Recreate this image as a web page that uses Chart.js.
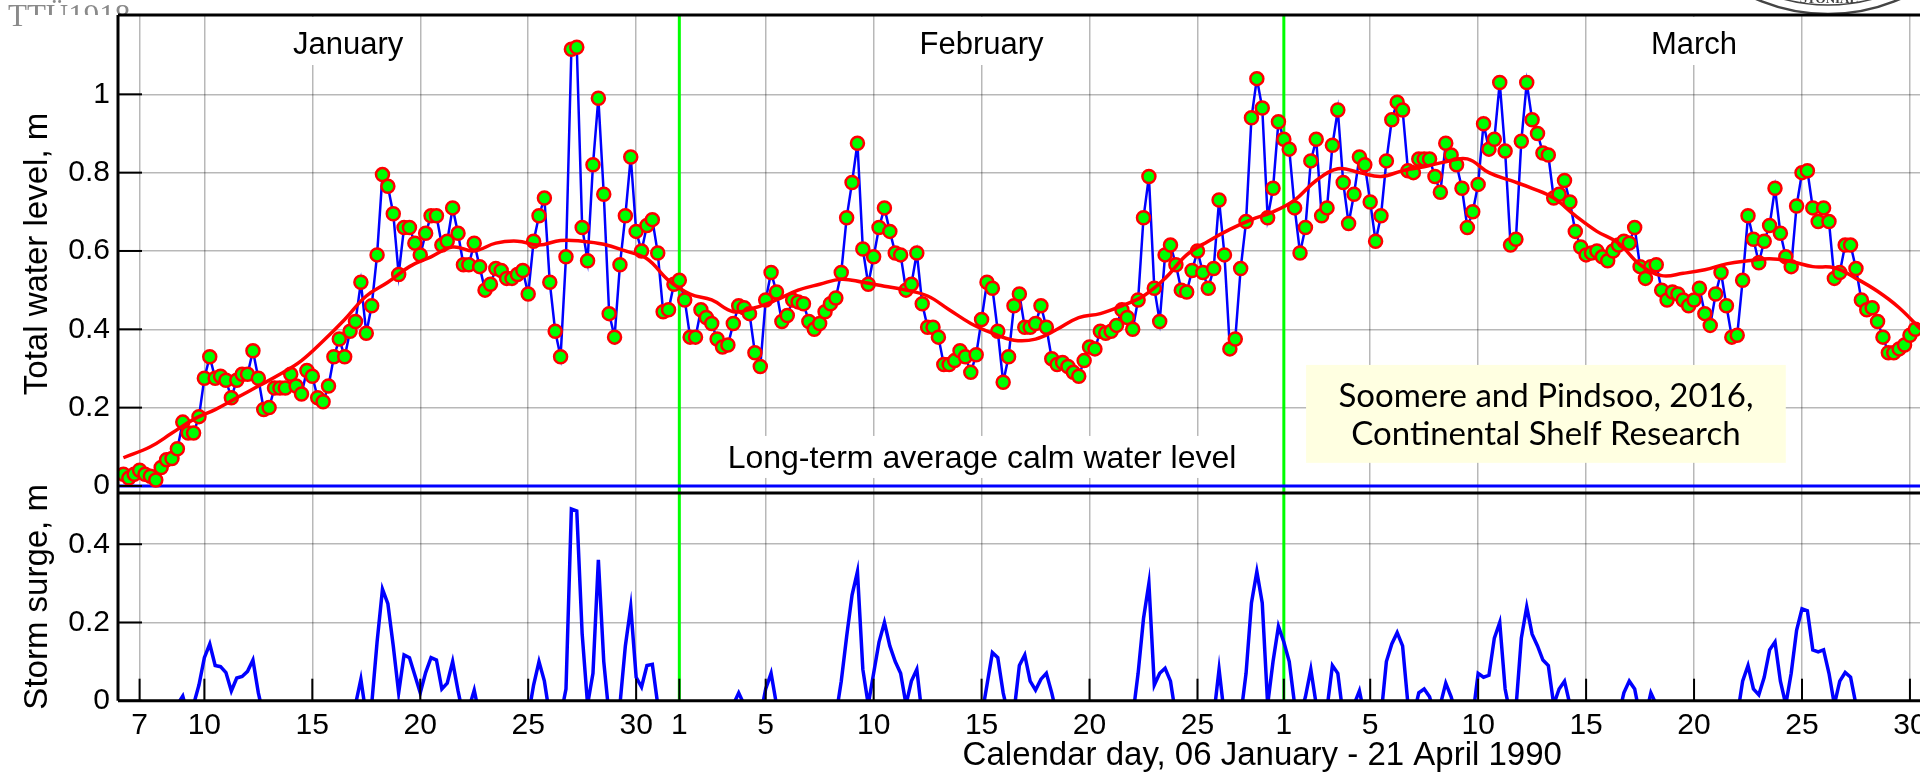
<!DOCTYPE html>
<html>
<head>
<meta charset="utf-8">
<script src="https://cdn.jsdelivr.net/npm/chart.js@4.4.1/dist/chart.umd.min.js"></script>
<style>
  html, body { margin: 0; padding: 0; background: #fff; overflow: hidden; }
  #wrap { width: 2440px; height: 778px; }
</style>
</head>
<body>
<div id="wrap"><canvas id="chart" width="2440" height="778"></canvas></div>
<script>
// x axis: day number counted from 1 January 1990 (1 Feb = 32, 1 Mar = 60, 1 Apr = 91)
// samples are 6-hourly, first one 6 Jan 06:00
const startDay = 6.25;
const stepDay = 0.25;

// total water level, m (green dots)
const waterLevel = [
  0.03, 0.02, 0.03, 0.04, 0.03, 0.025, 0.015, 0.047, 0.067, 0.07, 0.095, 0.163, 0.135, 0.135, 0.177, 0.275, 0.33,
  0.275, 0.28, 0.27, 0.225, 0.27, 0.285, 0.285, 0.345, 0.275, 0.195, 0.2, 0.25, 0.25, 0.25, 0.285, 0.255, 0.235,
  0.295, 0.28, 0.225, 0.215, 0.255, 0.33, 0.375, 0.33, 0.395, 0.42, 0.52, 0.39, 0.46, 0.59, 0.795, 0.765, 0.695,
  0.54, 0.66, 0.66, 0.62, 0.59,
  0.645, 0.69, 0.69, 0.615, 0.625, 0.71, 0.645, 0.565, 0.565, 0.62, 0.56, 0.5, 0.515, 0.555, 0.55, 0.53, 0.53,
  0.54, 0.55, 0.49, 0.625, 0.69, 0.735, 0.52, 0.395, 0.33, 0.585, 1.115, 1.12, 0.66, 0.575, 0.82, 0.99, 0.745,
  0.44, 0.38, 0.565, 0.69, 0.84, 0.65, 0.6, 0.665, 0.68, 0.595, 0.445, 0.45, 0.515, 0.525, 0.475, 0.38, 0.38,
  0.45, 0.43, 0.415, 0.375, 0.355,
  0.36, 0.415, 0.46, 0.455, 0.44, 0.34, 0.305, 0.475, 0.545, 0.495, 0.42, 0.435, 0.475, 0.47, 0.465, 0.42, 0.4,
  0.415, 0.445, 0.465, 0.48, 0.545, 0.685, 0.775, 0.875, 0.605, 0.515, 0.585, 0.66, 0.71, 0.65, 0.595, 0.59,
  0.5, 0.515, 0.595, 0.465, 0.405, 0.405, 0.38, 0.31, 0.31, 0.32, 0.345, 0.33, 0.29, 0.335, 0.425, 0.52, 0.505,
  0.395, 0.265, 0.33, 0.46, 0.49,
  0.405, 0.405, 0.415, 0.46, 0.405, 0.325, 0.31, 0.315, 0.305, 0.29, 0.28, 0.32, 0.355, 0.35, 0.395, 0.39, 0.395,
  0.41, 0.45, 0.43, 0.4, 0.475, 0.685, 0.79, 0.505, 0.42, 0.59, 0.615, 0.565, 0.5, 0.495, 0.55, 0.6, 0.545, 0.505,
  0.555, 0.73, 0.59, 0.35, 0.375, 0.555, 0.675, 0.94, 1.04, 0.965, 0.685, 0.76, 0.93, 0.885, 0.86, 0.71, 0.595,
  0.66, 0.83, 0.885, 0.69,
  0.71, 0.87, 0.96, 0.775, 0.67, 0.745, 0.84, 0.82, 0.725, 0.625, 0.69, 0.83, 0.935, 0.98, 0.96, 0.805, 0.8,
  0.835, 0.835, 0.835, 0.79, 0.75, 0.875, 0.845, 0.82, 0.76, 0.66, 0.7, 0.77, 0.925, 0.86, 0.885, 1.03, 0.855,
  0.615, 0.63, 0.88, 1.03, 0.935, 0.9, 0.85, 0.845, 0.735, 0.745, 0.78, 0.725, 0.65, 0.61, 0.59, 0.595, 0.6,
  0.585, 0.575, 0.6, 0.615,
  0.625, 0.62, 0.66, 0.56, 0.53, 0.56, 0.565, 0.5, 0.475, 0.495, 0.49, 0.475, 0.46, 0.475, 0.505, 0.44, 0.41,
  0.49, 0.545, 0.46, 0.38, 0.385, 0.525, 0.69, 0.63, 0.57, 0.625, 0.665, 0.76, 0.645, 0.585, 0.56, 0.715, 0.8,
  0.805, 0.71, 0.675, 0.71, 0.675, 0.53, 0.545, 0.615, 0.615, 0.555, 0.475, 0.45, 0.455, 0.42, 0.38, 0.34, 0.34,
  0.35, 0.36, 0.385, 0.4
];

// storm surge, m (values below 0 are cut off by the axis)
const surge = [
  -0.04, -0.04, -0.04, -0.04, -0.04, -0.04, -0.04, -0.04, -0.04, -0.04,
  -0.01, 0.012, -0.04, -0.01, 0.04, 0.11, 0.145, 0.09, 0.087, 0.072,
  0.025, 0.058, 0.062, 0.075, 0.104, 0.02, -0.04, -0.04, -0.04, -0.04,
  -0.04, -0.04, -0.04, -0.04, -0.04, -0.04, -0.04, -0.04, -0.04, -0.04,
  -0.04, -0.04, -0.04, -0.01, 0.055, -0.04, -0.01, 0.15, 0.285, 0.248,
  0.14, 0.02, 0.117, 0.11, 0.065, 0.02, 0.072, 0.11, 0.104, 0.03,
  0.045, 0.1, 0.025, -0.04, -0.02, 0.027, -0.04, -0.04, -0.04, -0.04,
  -0.04, -0.04, -0.04, -0.04, -0.04, -0.04, 0.04, 0.1, 0.05, -0.04,
  -0.04, -0.04, 0.03, 0.49, 0.485, 0.17, -0.01, 0.07, 0.36, 0.1,
  -0.04, -0.04, -0.01, 0.14, 0.24, 0.06, 0.035, 0.09, 0.093, -0.01,
  -0.04, -0.04, -0.04, -0.04, -0.04, -0.04, -0.04, -0.04, -0.04, -0.04,
  -0.04, -0.04, -0.04, -0.01, 0.02, -0.01, -0.04, -0.04, -0.04, 0.03,
  0.07, -0.01, -0.04, -0.04, -0.04, -0.04, -0.04, -0.04, -0.04, -0.04,
  -0.04, -0.04, -0.04, 0.05, 0.164, 0.27, 0.33, 0.08, -0.01, 0.07,
  0.15, 0.2, 0.14, 0.1, 0.07, -0.01, 0.05, 0.08, -0.04, -0.04,
  -0.04, -0.04, -0.04, -0.04, -0.04, -0.04, -0.04, -0.04, -0.04, -0.04,
  0.04, 0.123, 0.11, 0.02, -0.04, -0.03, 0.09, 0.117, 0.05, 0.027,
  0.055, 0.07, 0.02, -0.04, -0.04, -0.04, -0.04, -0.04, -0.04, -0.04,
  -0.04, -0.04, -0.04, -0.04, -0.04, -0.04, -0.04, -0.04, 0.07, 0.21,
  0.3, 0.04, 0.07, 0.083, 0.05, -0.04, -0.04, -0.04, -0.04, -0.04,
  -0.04, -0.04, -0.04, 0.08, -0.04, -0.04, -0.04, -0.04, 0.07, 0.25,
  0.33, 0.25, -0.01, 0.1, 0.19, 0.15, 0.1, -0.01, -0.04, 0.01,
  0.08, -0.01, -0.04, -0.02, 0.09, 0.07, -0.04, -0.04, -0.01, 0.025,
  -0.04, -0.04, -0.04, -0.04, 0.1, 0.145, 0.174, 0.14, -0.01, -0.04,
  0.02, 0.03, 0.01, -0.04, -0.01, 0.045, 0.01, -0.04, -0.04, -0.04,
  -0.04, 0.07, 0.06, 0.065, 0.16, 0.2, 0.03, -0.04, -0.02, 0.16,
  0.24, 0.17, 0.14, 0.104, 0.09, -0.01, 0.03, 0.05, -0.01, -0.04,
  -0.04, -0.04, -0.04, -0.04, -0.04, -0.04, -0.04, -0.04, 0.02, 0.05,
  0.03, -0.04, -0.04, 0.02, -0.01, -0.04, -0.04, -0.04, -0.04, -0.04,
  -0.04, -0.04, -0.04, -0.04, -0.04, -0.04, -0.04, -0.04, -0.04, -0.04,
  0.05, 0.09, 0.03, 0.015, 0.06, 0.13, 0.15, 0.05, -0.01, 0.07,
  0.18, 0.235, 0.23, 0.13, 0.125, 0.13, 0.07, -0.01, 0.05, 0.072,
  0.06, -0.01, -0.04, -0.04, -0.04, -0.04, -0.04, -0.04, -0.04, -0.04,
  -0.04, -0.04, -0.04
];

// running mean of the water level (red curve)
const meanDays = [6.25, 7.5, 8.5, 9.5, 10.5, 11.5, 12.5, 13.5, 14.5, 15.5, 16.5, 17.5, 18.5, 19.5, 20.5,
  21.5, 22.5, 23.5, 24.5, 25.5, 26.5, 27.5, 28.5, 29.5, 30.5, 31.5, 32.5, 33.5, 34.5, 35.5, 36.5, 37.5, 38.5,
  39.5, 40.5, 41.5, 42.5, 43.5, 44.5, 45.5, 46.5, 47.5, 48.5, 49.5, 50.5, 51.5, 52.5, 53.5, 54.5, 55.5, 56.5,
  57.5, 58.5, 59.5, 60.5, 61.5, 62.5, 63.5, 64.5, 65.5, 66.5, 67.5, 68.5, 69.5, 70.5, 71.5, 72.5, 73.5, 74.5,
  75.5, 76.5, 77.5, 78.5, 79.5, 80.5, 81.5, 82.5, 83.5, 84.5, 85.5, 86.5, 87.5, 88.5, 89.5];
const meanLevel = [0.072, 0.1, 0.135, 0.17, 0.195, 0.225, 0.255, 0.285, 0.32, 0.37, 0.425, 0.485, 0.52, 0.56, 0.585,
  0.61, 0.6, 0.62, 0.625, 0.615, 0.627, 0.625, 0.617, 0.6, 0.58, 0.525, 0.49, 0.475, 0.445, 0.455, 0.475, 0.5, 0.515,
  0.528, 0.52, 0.51, 0.5, 0.485, 0.45, 0.415, 0.39, 0.372, 0.375, 0.4, 0.43, 0.44, 0.46, 0.485, 0.53, 0.59, 0.625,
  0.655, 0.68, 0.7, 0.73, 0.78, 0.81, 0.8, 0.79, 0.805, 0.815, 0.828, 0.835, 0.8, 0.78, 0.76, 0.735, 0.69, 0.65,
  0.62, 0.565, 0.537, 0.543, 0.552, 0.567, 0.575, 0.58, 0.573, 0.56, 0.557, 0.53, 0.497, 0.455, 0.4];

// long-term average calm water level
const calmLevel = 0;

const tickDays = [7, 10, 15, 20, 25, 30, 32, 36, 41, 46, 51, 56, 60, 64, 69, 74, 79, 84, 89, 91, 95, 100, 105, 110];
const tickLabels = ['7', '10', '15', '20', '25', '30', '1', '5', '10', '15', '20', '25', '1', '5', '10', '15', '20', '25', '30', '1', '5', '10', '15', '20'];
const monthStarts = [32, 60, 91];
const monthNames = ['January', 'February', 'March'];
const monthLabelDays = [16.66, 46.0, 79.0];
const levelTicks = [0, 0.2, 0.4, 0.6, 0.8, 1];
const surgeTicks = [0, 0.2, 0.4];

const gridColor = 'rgba(0,0,0,0.28)';
const times = waterLevel.map((v, i) => startDay + i * stepDay);

Chart.defaults.font.family = '"Liberation Sans", Arial, sans-serif';
Chart.defaults.color = '#000';

function line(ctx, x1, y1, x2, y2){
    ctx.beginPath();
    ctx.moveTo(x1, y1);
    ctx.lineTo(x2, y2);
    ctx.stroke();
}

// keep the plot frame where the figure has it: no extra room for the end labels
function noPad(s){
    s.paddingTop = 0;
    s.paddingBottom = 0;
    s.paddingLeft = 0;
    s.paddingRight = 0;
}

const decor = {
    id: 'decor',
    beforeDraw(chart){
        const ctx = chart.ctx;
        ctx.save();
        ctx.fillStyle = '#fff';
        ctx.fillRect(0, 0, chart.width, chart.height);
        ctx.font = '31px "Liberation Serif"';
        ctx.fillStyle = '#8a8a8a';
        ctx.textBaseline = 'alphabetic';
        ctx.fillText('TTÜ1918', 8, 26);
        ctx.fillStyle = '#fff';
        ctx.fillRect(28, 15, chart.width, chart.height);
        // seal peeking in at the top right
        ctx.strokeStyle = '#444';
        ctx.lineWidth = 2.5;
        ctx.beginPath(); ctx.arc(1828, -166, 180, 0, Math.PI); ctx.stroke();
        ctx.lineWidth = 1.5;
        ctx.beginPath(); ctx.arc(1828, -166, 171, 0, Math.PI); ctx.stroke();
        ctx.font = 'bold 13px "Liberation Serif"';
        ctx.fillStyle = '#444';
        ctx.textAlign = 'center';
        ctx.fillText('STONIAE', 1829, 3);
        ctx.restore();
    },
    beforeDatasetsDraw(chart){
        const {ctx, chartArea, scales} = chart;
        const x = scales.x, yl = scales.yLevel;
        ctx.save();
        ctx.fillStyle = '#fff';
        ctx.font = '31px "Liberation Sans"';
        monthNames.forEach((name, i) => {
            const cx = x.getPixelForValue(monthLabelDays[i]);
            const w = ctx.measureText(name).width;
            ctx.fillRect(cx - w / 2 - 6, chartArea.top + 2, w + 12, 48);
        });
        const zeroY = yl.getPixelForValue(calmLevel);
        ctx.font = '32px "Liberation Sans"';
        const cw = ctx.measureText('Long-term average calm water level').width;
        const ccx = x.getPixelForValue(46.02);
        ctx.fillRect(ccx - cw / 2 - 7, zeroY - 50, cw + 14, 42);

        // note box
        const bx0 = x.getPixelForValue(61.03), bx1 = x.getPixelForValue(83.25);
        const by0 = yl.getPixelForValue(0.309), by1 = yl.getPixelForValue(0.059);
        ctx.fillStyle = '#ffffe1';
        ctx.fillRect(bx0, by0, bx1 - bx0, by1 - by0);

        // month boundaries
        ctx.strokeStyle = '#00ff00';
        ctx.lineWidth = 3;
        monthStarts.forEach(d => {
            const px = x.getPixelForValue(d);
            line(ctx, px, chartArea.top, px, chartArea.bottom);
        });
        ctx.restore();
    },
    afterDatasetsDraw(chart){
        const {ctx, chartArea, scales} = chart;
        const x = scales.x, yl = scales.yLevel, ys = scales.ySurge;
        ctx.save();
        ctx.fillStyle = '#000';
        ctx.textAlign = 'center';
        ctx.textBaseline = 'alphabetic';
        ctx.font = '31px "Liberation Sans"';
        monthNames.forEach((name, i) => {
            ctx.fillText(name, x.getPixelForValue(monthLabelDays[i]), chartArea.top + 38.5);
        });
        const zeroY = yl.getPixelForValue(calmLevel);
        ctx.font = '32px "Liberation Sans"';
        ctx.fillText('Long-term average calm water level', x.getPixelForValue(46.02), zeroY - 18);

        const by0 = yl.getPixelForValue(0.309);
        const bcx = (x.getPixelForValue(61.03) + x.getPixelForValue(83.25)) / 2;
        ctx.font = '33px Lato';
        ctx.fillText('Soomere and Pindsoo, 2016,', bcx, by0 + 42);
        ctx.fillText('Continental Shelf Research', bcx, by0 + 80);

        // frame
        ctx.strokeStyle = '#000';
        ctx.lineWidth = 3;
        line(ctx, chartArea.left, chartArea.top, chartArea.right, chartArea.top);
        line(ctx, chartArea.left, chartArea.top, chartArea.left, chartArea.bottom);
        line(ctx, chartArea.left, yl.bottom, chartArea.right, yl.bottom);
        line(ctx, chartArea.left, chartArea.bottom, chartArea.right, chartArea.bottom);

        // inward tick marks
        ctx.lineWidth = 2;
        levelTicks.forEach(v => {
            const py = yl.getPixelForValue(v);
            line(ctx, chartArea.left, py, chartArea.left + 24, py);
        });
        surgeTicks.forEach(v => {
            const py = ys.getPixelForValue(v);
            line(ctx, chartArea.left, py, chartArea.left + 24, py);
        });
        tickDays.forEach(d => {
            const px = x.getPixelForValue(d);
            line(ctx, px, chartArea.bottom, px, chartArea.bottom - 22);
        });
        ctx.restore();
    }
};

new Chart(document.getElementById('chart'), {
    type: 'line',
    data: {
        datasets: [
            {
                label: 'running mean',
                data: meanDays.map((d, i) => ({x: d, y: meanLevel[i]})),
                yAxisID: 'yLevel',
                borderColor: '#ff0000',
                borderWidth: 3.5,
                pointRadius: 0,
                tension: 0.4,
                order: 0
            },
            {
                label: 'total water level',
                data: times.map((t, i) => ({x: t, y: waterLevel[i]})),
                yAxisID: 'yLevel',
                borderColor: '#0000ff',
                borderWidth: 2.5,
                pointRadius: 6.5,
                pointBackgroundColor: '#00ff00',
                pointBorderColor: '#ff0000',
                pointBorderWidth: 2.5,
                tension: 0,
                order: 1
            },
            {
                label: 'calm level',
                data: [{x: 6, y: calmLevel}, {x: 112, y: calmLevel}],
                yAxisID: 'yLevel',
                borderColor: '#0000ff',
                borderWidth: 3,
                pointRadius: 0,
                order: 2
            },
            {
                label: 'storm surge',
                data: times.map((t, i) => ({x: t, y: surge[i]})),
                yAxisID: 'ySurge',
                borderColor: '#0000ff',
                borderWidth: 3.5,
                pointRadius: 0,
                tension: 0,
                order: 1
            }
        ]
    },
    options: {
        responsive: false,
        devicePixelRatio: 1,
        animation: false,
        events: [],
        layout: {padding: {left: 0, right: 33.5, top: 15, bottom: 0}},
        plugins: {legend: {display: false}, tooltip: {enabled: false}},
        scales: {
            x: {
                type: 'linear',
                position: 'bottom',
                min: 6,
                max: 112,
                afterBuildTicks: s => { s.ticks = tickDays.map(v => ({value: v})); },
                afterFit: s => { s.height = 77.3; noPad(s); },
                ticks: {autoSkip: false, maxRotation: 0, padding: 7, font: {size: 30}, color: '#000',
                    callback: (v, i) => tickLabels[i]},
                grid: {
                    color: c => (c.tick && monthStarts.includes(c.tick.value)) ? 'rgba(0,0,0,0)' : gridColor,
                    lineWidth: 1.5,
                    drawTicks: false
                },
                border: {display: false},
                title: {display: true, text: 'Calendar day, 06 January - 21 April 1990',
                    font: {size: 33}, color: '#000', padding: {top: 0, bottom: 2}}
            },
            ySurge: {
                type: 'linear',
                position: 'left',
                stack: 'panels',
                stackWeight: 207.7,
                min: 0,
                max: 0.531,
                afterBuildTicks: s => { s.ticks = surgeTicks.map(v => ({value: v})); },
                afterFit: s => { s.width = 118; noPad(s); },
                ticks: {padding: 8, font: {size: 30}, color: '#000', callback: v => String(v)},
                grid: {color: gridColor, lineWidth: 1.5, drawTicks: false},
                border: {display: false},
                title: {display: true, text: 'Storm surge, m', font: {size: 33}, color: '#000',
                    padding: {top: 18, bottom: 0}}
            },
            yLevel: {
                type: 'linear',
                position: 'left',
                stack: 'panels',
                stackWeight: 478,
                min: -0.018,
                max: 1.2025,
                afterBuildTicks: s => { s.ticks = levelTicks.map(v => ({value: v})); },
                afterFit: s => { s.width = 118; noPad(s); },
                ticks: {padding: 8, font: {size: 30}, color: '#000', callback: v => String(v)},
                grid: {color: gridColor, lineWidth: 1.5, drawTicks: false},
                border: {display: false},
                title: {display: true, text: 'Total water level, m', font: {size: 33}, color: '#000',
                    padding: {top: 18, bottom: 0}}
            }
        }
    },
    plugins: [decor]
});
</script>
</body>
</html>
